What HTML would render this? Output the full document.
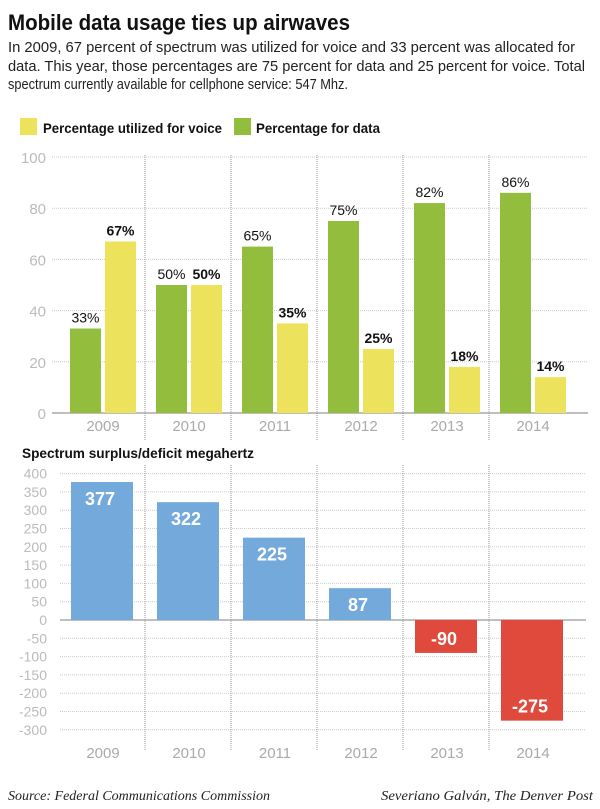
<!DOCTYPE html>
<html><head><meta charset="utf-8"><style>
body{margin:0;background:#fff;}
svg{display:block;font-family:"Liberation Sans",sans-serif;}
</style></head><body>
<svg id="chart" width="600" height="809" viewBox="0 0 600 809" xmlns="http://www.w3.org/2000/svg">
<text x="8" y="30" font-size="22" font-weight="bold" fill="#111" textLength="342" lengthAdjust="spacingAndGlyphs">Mobile data usage ties up airwaves</text>
<g font-size="15" fill="#222">
<text x="8" y="52" textLength="567" lengthAdjust="spacingAndGlyphs">In 2009, 67 percent of spectrum was utilized for voice and 33 percent was allocated for</text>
<text x="8" y="71" textLength="577" lengthAdjust="spacingAndGlyphs">data. This year, those percentages are 75 percent for data and 25 percent for voice. Total</text>
<text x="8" y="89" textLength="340" lengthAdjust="spacingAndGlyphs">spectrum currently available for cellphone service: 547 Mhz.</text>
</g>
<g font-size="14" font-weight="bold" fill="#111">
<rect x="20" y="118" width="17" height="17" fill="#ede25c"/>
<text x="43" y="133" textLength="179" lengthAdjust="spacingAndGlyphs">Percentage utilized for voice</text>
<rect x="234" y="118" width="17" height="17" fill="#93bd3d"/>
<text x="256" y="133" textLength="124" lengthAdjust="spacingAndGlyphs">Percentage for data</text>
</g>
<text x="22" y="458" font-size="14" font-weight="bold" fill="#111" textLength="232" lengthAdjust="spacingAndGlyphs">Spectrum surplus/deficit megahertz</text>
<g id="topChart"></g>
<g id="botChart"></g>
<text x="8" y="800" font-family="Liberation Serif" font-style="italic" font-size="14" fill="#222" textLength="262" lengthAdjust="spacingAndGlyphs">Source: Federal Communications Commission</text>
<text x="593" y="800" text-anchor="end" font-family="Liberation Serif" font-style="italic" font-size="14" fill="#222" textLength="212" lengthAdjust="spacingAndGlyphs">Severiano Galván, The Denver Post</text>
</svg>
<script>
const years = ['2009','2010','2011','2012','2013','2014'];
const dataPct = [33,50,65,75,82,86];
const voicePct = [67,50,35,25,18,14];
const topTicks = [0,20,40,60,80,100];
const surplus = [377,322,225,87,-90,-275];
const botTicks = [400,350,300,250,200,150,100,50,0,-50,-100,-150,-200,-250,-300];

const NS='http://www.w3.org/2000/svg';
function mk(p,t,a,txt){const e=document.createElementNS(NS,t);for(const k in a)e.setAttribute(k,a[k]);if(txt!==undefined)e.textContent=txt;p.appendChild(e);return e;}
const colX=i=>59+86*i;
// top chart
const yT=v=>413-v*2.56;
const topG=document.getElementById('topChart');
topTicks.forEach(v=>{
  const l=mk(topG,'line',{x1:52,x2:588,y1:yT(v),y2:yT(v),stroke:v===0?'#aaa':'#ccc','stroke-width':v===0?1.5:1,'stroke-dasharray':v===0?'none':'1,1'});
  
  
  const t=mk(topG,'text',{x:46,y:yT(v)+6,'text-anchor':'end','font-size':15,fill:'#bbb'},String(v));
  
  
});
years.forEach((y,i)=>{
  if(i>0){const s=mk(topG,'line',{x1:colX(i),x2:colX(i),y1:155,y2:440,stroke:'#999','stroke-dasharray':'1,1'});
  
  }
  const x0=colX(i)+11;
  const g=mk(topG,'rect',{x:x0,y:yT(dataPct[i]),width:31,height:yT(0)-yT(dataPct[i]),fill:'#93bd3d'});
  
  
  const gv=mk(topG,'text',{x:x0+15.5,y:yT(dataPct[i])-6,'text-anchor':'middle','font-size':14,fill:'#111'},dataPct[i]+'%');
  
  
  const yb=mk(topG,'rect',{x:x0+35,y:yT(voicePct[i]),width:31,height:yT(0)-yT(voicePct[i]),fill:'#ede25c'});
  
  
  const yv=mk(topG,'text',{x:x0+50.5,y:yT(voicePct[i])-6,'text-anchor':'middle','font-size':14,'font-weight':'bold',fill:'#111'},voicePct[i]+'%');
  
  
  const xl=mk(topG,'text',{x:x0+33,y:431,'text-anchor':'middle','font-size':15,fill:'#aaa'},y);
  
  
});
// bottom chart
const yB=v=>620-v*0.366;
const botG=document.getElementById('botChart');
botTicks.forEach(v=>{
  const l=mk(botG,'line',{x1:60,x2:586,y1:yB(v),y2:yB(v),stroke:v===0?'#aaa':'#ccc','stroke-width':v===0?1.5:1,'stroke-dasharray':v===0?'none':'1,1'});
  
  
  const t=mk(botG,'text',{x:47,y:yB(v)+5,'text-anchor':'end','font-size':14,fill:'#bbb'},String(v));
  
  
});
years.forEach((y,i)=>{
  if(i>0){const s=mk(botG,'line',{x1:colX(i),x2:colX(i),y1:465,y2:750,stroke:'#999','stroke-dasharray':'1,1'});
  
  }
  const v=surplus[i],x0=colX(i)+12;
  const y0=Math.min(yB(v),yB(0)),h=Math.abs(yB(v)-yB(0));
  const b=mk(botG,'rect',{x:x0,y:y0,width:62,height:h,fill:v>=0?'#74a9dc':'#e04a3c'});
  
  
  const ty=v>=0?yB(v)+23:yB(v)-8;
  const t=mk(botG,'text',{x:x0+29,y:ty,'text-anchor':'middle','font-size':18,'font-weight':'bold',fill:'#fff'},String(v));
  
  
  const xl=mk(botG,'text',{x:x0+32,y:758,'text-anchor':'middle','font-size':15,fill:'#aaa'},y);
  
  
});
</script>
</body></html>
